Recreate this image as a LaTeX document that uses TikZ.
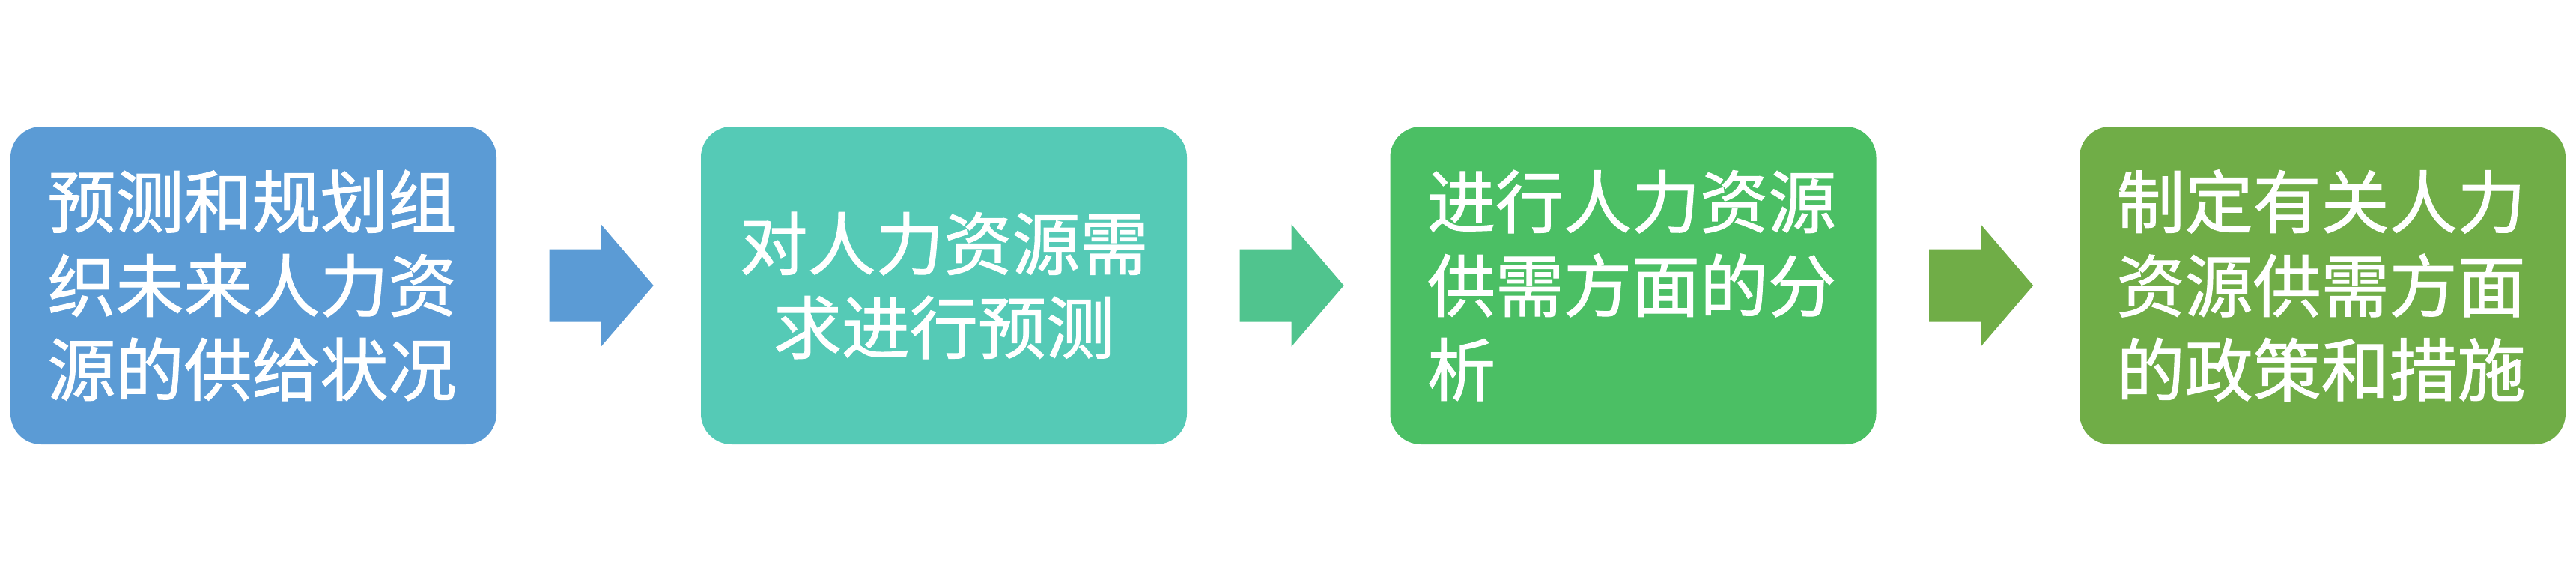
\documentclass[tikz,border=0pt]{standalone}
\usepackage{fontspec}
\newfontfamily\cjk{Noto Sans CJK SC}[FakeBold=1.2]
\usetikzlibrary{positioning, calc}
\definecolor{plan_blue}{RGB}{91, 155, 213}
\definecolor{plan_teal}{RGB}{85, 202, 182}
\definecolor{plan_mint}{RGB}{80, 196, 142}
\definecolor{plan_green}{RGB}{75, 191, 100}
\definecolor{plan_olive}{RGB}{112, 173, 71}

\begin{document}
\begin{tikzpicture}[
        every node/.style={font=\cjk\fontsize{25.9pt}{31.9pt}\selectfont, text=white},
        box/.style={rounded corners=0.41cm, minimum width=6.49cm, minimum height=4.24cm,
                    text width=5.5cm, align=left, inner sep=0pt},
        flow/.style={draw=none},
      ]
        \useasboundingbox (0,0) rectangle (34.4,7.61);

        \node[box, fill=plan_blue]  (supply)  at (3.385,3.80)  {预测和规划组\\织未来人力资\\源的供给状况};
        \node[box, fill=plan_teal, align=center] (demand) at (12.605,3.80) {对人力资源需\\求进行预测};
        \node[box, fill=plan_green] (balance) at (21.81,3.80)  {进行人力资源\\供需方面的分\\析};
        \node[box, fill=plan_olive] (policy)  at (31.015,3.80) {制定有关人力\\资源供需方面\\的政策和措施};

        % block arrows between the steps
        \foreach \from/\to/\col in {supply/demand/plan_blue, demand/balance/plan_mint, balance/policy/plan_olive}{
          \fill[flow, \col]
            ($(\from.east)+(0.70,0.485)$) -- ++(0.69,0) -- ++(0,0.33)
            -- ($(\from.east)+(2.09,0)$)
            -- ($(\from.east)+(1.39,-0.815)$) -- ++(0,0.33) -- ++(-0.69,0) -- cycle;
        }
      \end{tikzpicture}
\end{document}
